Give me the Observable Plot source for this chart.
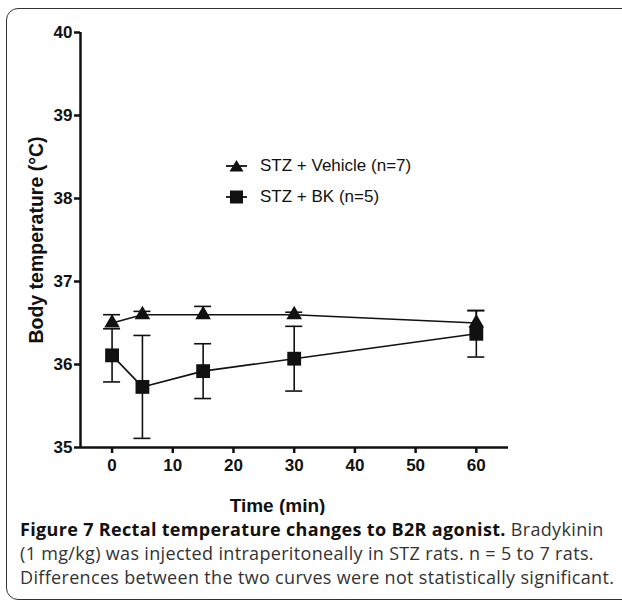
<!DOCTYPE html>
<html><head><meta charset="utf-8">
<script src="https://cdn.jsdelivr.net/npm/d3@7"></script>
<script src="https://cdn.jsdelivr.net/npm/@observablehq/plot@0.6"></script>
<style>
body{margin:0;background:#fff;width:622px;height:606px;overflow:hidden;position:relative;font-family:"Liberation Sans",Arial,sans-serif;}
#box{position:absolute;left:6px;top:8px;width:720px;height:592px;border:1.5px solid #333;border-radius:12px;box-sizing:border-box;}
#chart{position:absolute;left:0;top:0;}
#legend{position:absolute;left:226px;top:150px;font-size:17px;color:#111;}
.li{display:flex;align-items:center;height:31px;}
.li svg{margin-right:12px;}
#caption{position:absolute;left:20px;top:517px;width:610px;font-family:"Open Sans",sans-serif;font-size:18px;letter-spacing:0.33px;line-height:24px;color:#333;white-space:nowrap;}
#caption b{color:#111;}
</style></head><body>
<div id="box"></div>
<div id="chart"></div>
<div id="legend"></div>
<div id="caption"><b>Figure 7 Rectal temperature changes to B2R agonist.</b> Bradykinin<br>(1 mg/kg) was injected intraperitoneally in STZ rats. n = 5 to 7 rats.<br>Differences between the two curves were not statistically significant.</div>
<script>
const times = [0, 5, 15, 30, 60];
const vehicleMean = [36.5, 36.6, 36.6, 36.6, 36.5];
const vehicleSem = [0.1, 0.04, 0.1, 0.03, 0.15];
const bkMean = [36.11, 35.73, 35.92, 36.07, 36.37];
const bkSem = [0.32, 0.62, 0.33, 0.39, 0.28];
const seriesNames = ["STZ + Vehicle (n=7)", "STZ + BK (n=5)"];
const seriesSymbols = ["triangle", "square"];
const xTicks = [0, 10, 20, 30, 40, 50, 60];
const yTicks = [35, 36, 37, 38, 39, 40];
const xDomain = [-5.2, 65.3];
const yDomain = [35, 40];

// vehicle bars drawn upward only (as in the original), BK bars both ways
const rows = [];
times.forEach((t, i) => {
  rows.push({t, m: vehicleMean[i], lo: vehicleMean[i], hi: vehicleMean[i] + vehicleSem[i], s: seriesNames[0]});
  rows.push({t, m: bkMean[i], lo: bkMean[i] - bkSem[i], hi: bkMean[i] + bkSem[i], s: seriesNames[1]});
});
const veh = rows.filter(d => d.s === seriesNames[0]);
const bk = rows.filter(d => d.s === seriesNames[1]);
const capHalf = 1.4;
const tickFont = "'Liberation Sans Narrow', 'Liberation Sans', Arial, sans-serif";

const plot = Plot.plot({
  width: 622, height: 515,
  marginLeft: 80, marginRight: 114, marginTop: 32, marginBottom: 68,
  style: {fontFamily: "'Liberation Sans', Arial, sans-serif", fontSize: "15px", background: "transparent", color: "#111"},
  x: {domain: xDomain, ticks: xTicks},
  y: {domain: yDomain, ticks: yTicks},
  marks: [
    Plot.axisX({ticks: xTicks, tickSize: 6, strokeWidth: 2.5, tickPadding: 5, fontSize: 17, fontWeight: "bold", fontFamily: tickFont, label: null, tickFormat: "d"}),
    Plot.axisY({ticks: yTicks, tickSize: 6, strokeWidth: 2.5, tickPadding: 2, fontSize: 17, fontWeight: "bold", fontFamily: tickFont, label: null, tickFormat: "d"}),
    Plot.ruleY([yDomain[0]], {strokeWidth: 2.5, stroke: "#111"}),
    Plot.ruleX([xDomain[0]], {strokeWidth: 2.5, stroke: "#111", y1: yDomain[0], y2: yDomain[1]}),
    Plot.ruleX(rows, {x: "t", y1: "lo", y2: "hi", strokeWidth: 1.6, stroke: "#111"}),
    Plot.ruleY(rows, {y: "hi", x1: d => d.t - capHalf, x2: d => d.t + capHalf, strokeWidth: 1.6, stroke: "#111"}),
    Plot.ruleY(bk, {y: "lo", x1: d => d.t - capHalf, x2: d => d.t + capHalf, strokeWidth: 1.6, stroke: "#111"}),
    Plot.line(veh, {x: "t", y: "m", strokeWidth: 1.6, stroke: "#111"}),
    Plot.line(bk, {x: "t", y: "m", strokeWidth: 1.6, stroke: "#111"}),
    Plot.dot(veh, {x: "t", y: "m", symbol: "triangle", r: 5.8, fill: "#111", stroke: "none"}),
    Plot.dot(bk, {x: "t", y: "m", symbol: "square", r: 7.8, fill: "#111", stroke: "none"}),
    Plot.text(["Time (min)"], {frameAnchor: "bottom", dy: 58, dx: -17, lineAnchor: "middle", fontSize: 19, fontWeight: "bold", fill: "#111"}),
    Plot.text(["Body temperature (\u00B0C)"], {frameAnchor: "left", dx: -44, rotate: -90, textAnchor: "middle", lineAnchor: "middle", fontSize: 19.5, fontWeight: "bold", fill: "#111"})
  ]
});
document.getElementById("chart").appendChild(plot);

const leg = document.getElementById("legend");
seriesNames.forEach((name, i) => {
  const sym = seriesSymbols[i];
  const shape = sym === "triangle"
    ? '<path d="M10.5,2 L17.5,13.5 L3.5,13.5 Z" fill="#111"/>'
    : '<rect x="4" y="1.5" width="13" height="13" fill="#111"/>';
  leg.insertAdjacentHTML("beforeend",
    `<div class="li"><svg width="22" height="16" viewBox="0 0 22 16"><line x1="0" x2="21" y1="8" y2="8" stroke="#111" stroke-width="1.8"/>${shape}</svg><span>${name}</span></div>`);
});
</script>
</body></html>
